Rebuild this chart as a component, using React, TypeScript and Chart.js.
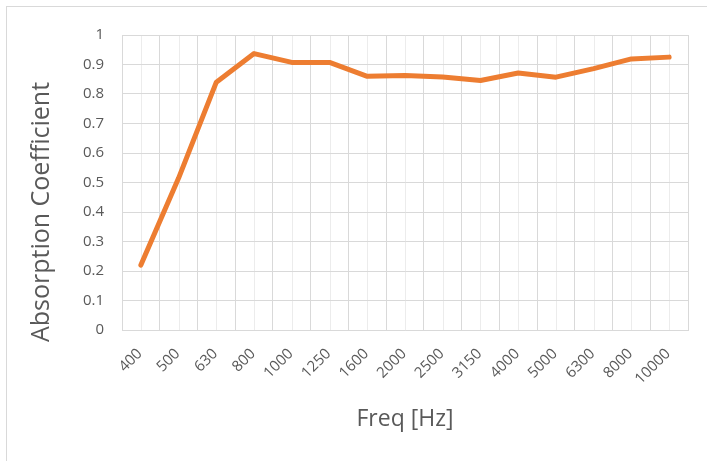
import React, { useEffect, useRef } from "react";
import { Chart, registerables } from "chart.js";

Chart.register(...registerables);

const categories = ["400", "500", "630", "800", "1000", "1250", "1600", "2000", "2500", "3150", "4000", "5000", "6300", "8000", "10000"];
const absorption = [0.22, 0.515, 0.84, 0.937, 0.907, 0.907, 0.86, 0.863, 0.858, 0.846, 0.871, 0.857, 0.886, 0.919, 0.925];
const yTitle = "Absorption Coefficient";
const xTitle = "Freq [Hz]";

const FONT = "'Open Sans', sans-serif";
const TEXT = "#595959";
const GRID = "#d9d9d9";
const MINOR = "#ececec";

const minorGrid = {
  id: "minorGrid",
  beforeDraw(chart: any) {
    const { ctx, chartArea, scales } = chart;
    const x = scales.x;
    ctx.save();
    ctx.strokeStyle = MINOR;
    ctx.lineWidth = 1;
    for (let i = 0; i < categories.length; i++) {
      const px = Math.round(x.getPixelForValue(i)) + 0.5;
      ctx.beginPath();
      ctx.moveTo(px, chartArea.top);
      ctx.lineTo(px, chartArea.bottom);
      ctx.stroke();
    }
    ctx.restore();
  },
};

const yTitlePlugin = {
  id: "yTitlePlugin",
  afterDraw(chart: any) {
    const { ctx } = chart;
    ctx.save();
    ctx.translate(42, 212);
    ctx.rotate(-Math.PI / 2);
    ctx.font = `25px ${FONT}`;
    ctx.fillStyle = TEXT;
    ctx.textAlign = "center";
    ctx.textBaseline = "middle";
    ctx.fillText(yTitle, 0, 0);
    ctx.restore();
  },
};

export default function App() {
  const ref = useRef<HTMLCanvasElement | null>(null);

  useEffect(() => {
    if (!ref.current) return;
    const chart = new Chart(ref.current, {
      type: "line",
      data: {
        labels: categories,
        datasets: [
          {
            data: absorption,
            borderColor: "#ED7D31",
            backgroundColor: "#ED7D31",
            borderWidth: 5,
            pointRadius: 0,
            tension: 0,
            borderCapStyle: "round",
            borderJoinStyle: "round",
          },
        ],
      },
      options: {
        animation: false,
        responsive: false,
        maintainAspectRatio: false,
        layout: { padding: { left: 0, right: 19, top: 35, bottom: 0 } },
        plugins: { legend: { display: false }, tooltip: { enabled: false }, title: { display: false } },
        scales: {
          x: {
            type: "category",
            offset: true,
            grid: { offset: true, color: GRID, drawTicks: false },
            border: { color: GRID },
            ticks: {
              font: { family: FONT, size: 15 },
              color: TEXT,
              minRotation: 45,
              maxRotation: 45,
              autoSkip: false,
              padding: 15,
              labelOffset: -1,
            },
            title: {
              display: true,
              text: xTitle,
              font: { family: FONT, size: 23 },
              color: TEXT,
              padding: { top: 0, bottom: 28 },
            },
            afterFit: (s: any) => {
              s.height = 131;
            },
          },
          y: {
            min: 0,
            max: 1,
            grid: { color: GRID, drawTicks: false },
            border: { color: GRID },
            ticks: {
              stepSize: 0.1,
              font: { family: FONT, size: 15 },
              color: TEXT,
              padding: 18,
              callback: (v: any) => String(Number(Number(v).toFixed(1))),
            },
            afterFit: (s: any) => {
              s.width = 122;
            },
          },
        },
      },
      plugins: [minorGrid, yTitlePlugin],
    });
    return () => chart.destroy();
  }, []);

  return (
    <div style={{ position: "absolute", left: 0, top: 0, width: 707, height: 461, overflow: "hidden", background: "#fff" }}>
      <div style={{ position: "absolute", left: 6, top: 6, width: 740, height: 500, border: `1px solid ${GRID}` }} />
      <canvas ref={ref} width={707} height={461} style={{ position: "absolute", left: 0, top: 0, width: 707, height: 461 }} />
    </div>
  );
}
